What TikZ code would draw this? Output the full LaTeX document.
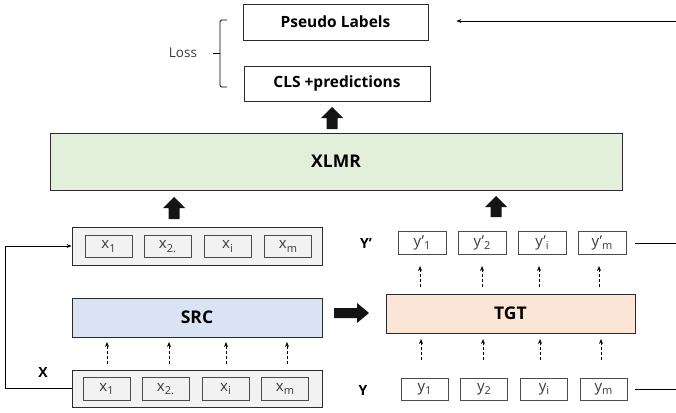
\documentclass[tikz,border=0pt]{standalone}
\usepackage{fontspec}
\setmainfont{Open Sans}
\usetikzlibrary{arrows.meta,calc}
\definecolor{xlmrfill}{HTML}{E2EFDA}
\definecolor{srcfill}{HTML}{DAE3F3}
\definecolor{tgtfill}{HTML}{FBE5D6}
\definecolor{contfill}{HTML}{F2F2F2}
\definecolor{edge}{HTML}{2B2B2B}
\definecolor{txtgray}{HTML}{3A3A3A}
\newcommand\sbs[1]{\raisebox{-0.4ex}{\fontsize{11}{11}\selectfont #1}}
\newcommand\fatup[4]{\fill[black!92] (#1-5.5,#2) -- (#1-5.5,#3) -- (#1-11,#3) -- (#1,#4) -- (#1+11,#3) -- (#1+5.5,#3) -- (#1+5.5,#2) -- cycle;}
\tikzset{
  bigbox/.style={draw=edge, line width=0.9pt, rectangle, inner sep=0pt, font=\fontsize{15.5}{17}\selectfont\bfseries},
  hugelab/.style={font=\fontsize{17.5}{19}\selectfont\bfseries},
  cont/.style={draw=edge, line width=0.9pt, rectangle, fill=contfill, inner sep=0pt, minimum width=250pt},
  tok/.style={draw=edge!85, line width=0.8pt, rectangle, inner sep=0pt, minimum width=47pt, minimum height=22.5pt, text=txtgray, font=\fontsize{15}{17}\selectfont},
  dasharr/.style={line width=0.8pt, dash pattern=on 3pt off 2pt, -{Stealth[length=5pt,width=4pt]}},
  thin/.style={line width=0.9pt},
  lab/.style={font=\fontsize{14}{16}\selectfont\bfseries},
}
\begin{document}
\begin{tikzpicture}[x=1pt,y=-1pt]
\useasboundingbox (0,0) rectangle (676,412);
% top boxes
\node[bigbox, minimum width=185pt, minimum height=36pt] (pl) at (335.5,22) {Pseudo Labels};
\node[bigbox, minimum width=186pt, minimum height=35pt] (cls) at (337,83.5) {CLS +predictions};
\node[font=\fontsize{13.5}{15}\selectfont, text=txtgray] (loss) at (183,53) {Loss};
\draw[thin, rounded corners=1.5pt] (227,20) -- (220,20) -- (220,87) -- (227,87);
\draw[thin] (213,53) -- (220,53);
\coordinate (rin) at (676,21);
\draw[thin, -{Stealth[length=5pt,width=4pt]}] (rin) -- ($(pl.east)+(28,-1)$);
% XLMR
\node[bigbox, hugelab, fill=xlmrfill, minimum width=572pt, minimum height=57pt] (xlmr) at (336,161.5) {XLMR};
\fatup{332}{129}{118}{107}
\fatup{174}{219}{208}{197}
\fatup{496}{217}{207}{196}
% upper x container
\node[cont, minimum height=38pt] (xu) at (197,246) {};
\node[tok] (xu1) at (108.5,246.5) {x\sbs{1}};
\node[tok] (xu2) at (167.5,246.5) {x\sbs{2.}};
\node[tok] (xu3) at (227.5,246.5) {x\sbs{i}};
\node[tok] (xu4) at (288,246.5) {x\sbs{m}};
% SRC
\node[bigbox, hugelab, fill=srcfill, minimum width=250pt, minimum height=39pt] (src) at (197,317.5) {SRC};
% lower x container
\node[cont, minimum height=37pt] (xl) at (197,388.5) {};
\node[tok] (xl1) at (106.5,389) {x\sbs{1}};
\node[tok] (xl2) at (165.5,389) {x\sbs{2.}};
\node[tok] (xl3) at (225.5,389) {x\sbs{i}};
\node[tok] (xl4) at (285,389) {x\sbs{m}};
\node[lab] (xlab) at (43,372) {X};
% dashed arrows src
\foreach \xx in {107,169,226,287} \draw[dasharr] (\xx,364) -- (\xx,342);
% feedback
\draw[thin, -{Stealth[length=5pt,width=4pt]}] (xl.west) -- (xl.west -| 5,0) |- (xu.west);
% right fat arrow
\fill[black!92] (334,308) -- (357,308) -- (357,303) -- (369,313) -- (357,323) -- (357,318) -- (334,318) -- cycle;
% TGT
\node[bigbox, hugelab, fill=tgtfill, minimum width=249pt, minimum height=39pt] (tgt) at (510.5,313.5) {TGT};
% Y' row
\node[lab] (yplab) at (366,243) {Y’};
\node[tok, minimum width=48pt] (yp1) at (422,243) {y’\sbs{1}};
\node[tok, minimum width=48pt] (yp2) at (482,243) {y’\sbs{2}};
\node[tok, minimum width=48pt] (yp3) at (542,243) {y’\sbs{i}};
\node[tok, minimum width=48pt] (yp4) at (602,243) {y’\sbs{m}};
\coordinate (ypout) at (676,243);
\draw[thin] ($(yp4.east)+(9,0)$) -- (ypout);
% Y row
\node[lab] (ylab) at (363,390) {Y};
\node[tok] (y1) at (424.5,389.5) {y\sbs{1}};
\node[tok] (y2) at (484,389.5) {y\sbs{2}};
\node[tok] (y3) at (544,389.5) {y\sbs{i}};
\node[tok] (y4) at (603.5,389.5) {y\sbs{m}};
\coordinate (yout) at (676,389.5);
\draw[thin] ($(y4.east)+(8,0)$) -- (yout);
% dashed arrows tgt
\foreach \xx in {420,482,539,599} \draw[dasharr] (\xx,287) -- (\xx,266);
\foreach \xx in {421,483,540,601} \draw[dasharr] (\xx,360) -- (\xx,339);
\end{tikzpicture}
\end{document}
